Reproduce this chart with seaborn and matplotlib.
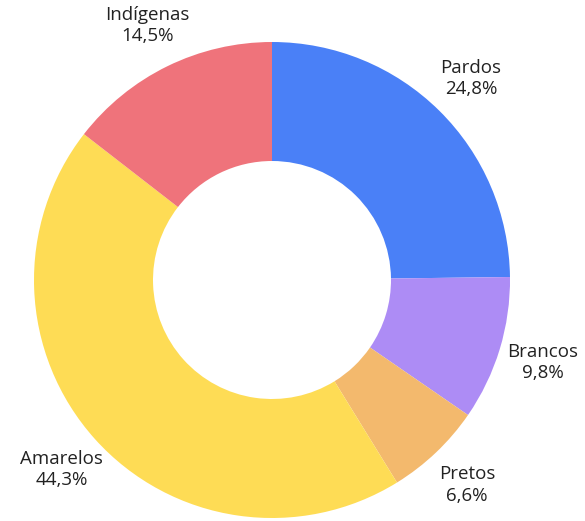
import matplotlib
matplotlib.use("Agg")
import matplotlib.pyplot as plt
import seaborn as sns

# distribuicao por cor/raca
categorias = ['Pardos', 'Brancos', 'Pretos', 'Amarelos', 'Indígenas']
valores = [24.8, 9.8, 6.6, 44.3, 14.5]
cores = ['#4a80f7', '#ad8cf5', '#f3b96d', '#fedc55', '#ef737b']

sns.set_theme(style='white')
plt.rcParams['font.family'] = ['Open Sans', 'DejaVu Sans']

fig = plt.figure(figsize=(5.85, 5.21), dpi=100)
# eixo quadrado com centro em (272, 280) px e raio 238 px
ax = fig.add_axes([34 / 585, 3 / 521, 476 / 585, 476 / 521])

rotulos = [f"{c}\n{str(v).replace('.', ',')}%" for c, v in zip(categorias, valores)]

wedges, textos = ax.pie(valores, labels=rotulos, colors=cores, startangle=90,
                        counterclock=False, radius=1, labeldistance=1.19,
                        wedgeprops=dict(width=0.5, edgecolor='none'),
                        textprops=dict(fontsize=13.5, color='#222222', ha='center', va='center',
                                       linespacing=1.25))

ax.set_xlim(-1, 1)
ax.set_ylim(-1, 1)
ax.set_aspect('equal')
ax.axis('off')

plt.savefig('out.png', dpi=100)
